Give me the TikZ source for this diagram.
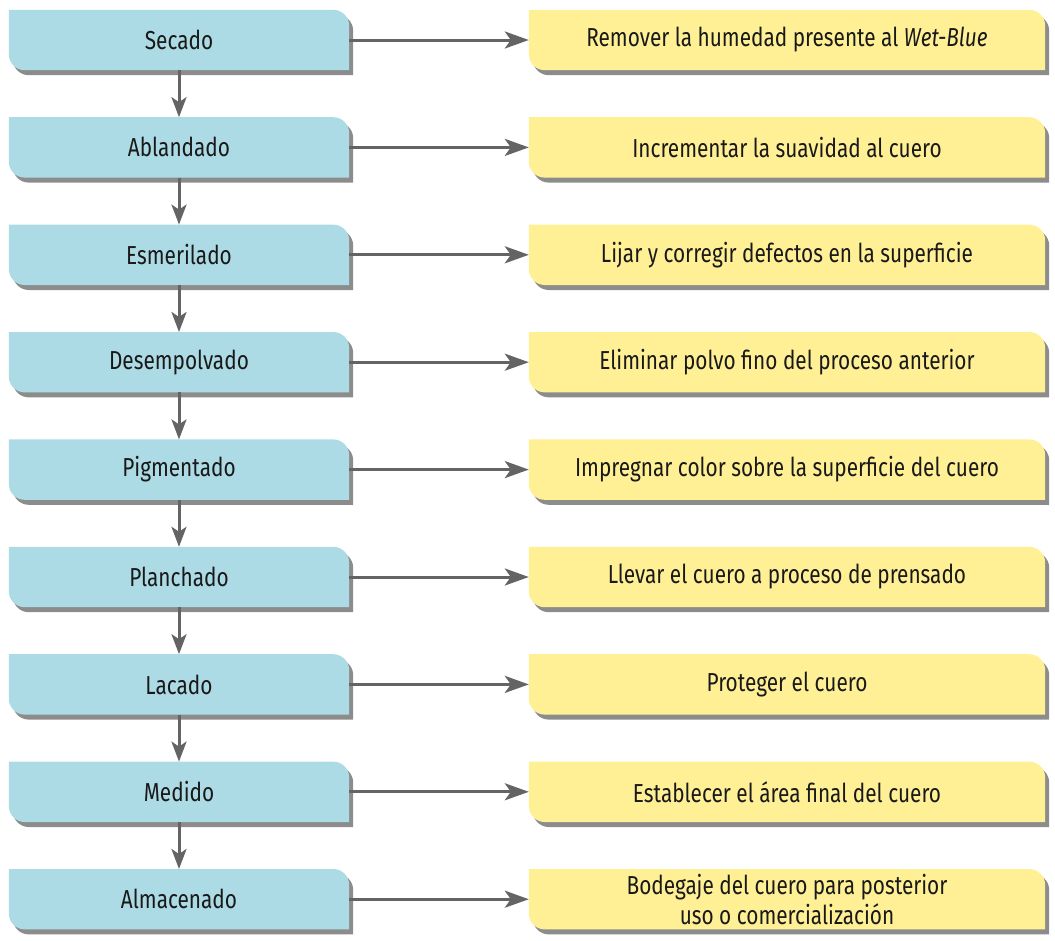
\documentclass[tikz,border=0pt]{standalone}
\usepackage{fontspec}
\setmainfont{Fira Sans}[FakeStretch=0.8]
\usetikzlibrary{arrows.meta,shadows,backgrounds}
\definecolor{procblue}{RGB}{173,219,229}
\definecolor{descyellow}{RGB}{255,240,150}
\definecolor{arrowgray}{RGB}{100,100,100}
\tikzset{
  procbox/.style={minimum width=340pt, minimum height=60pt, inner sep=0pt, font=\fontsize{26}{30}\selectfont, text=black!90},
  descbox/.style={minimum width=516pt, minimum height=60pt, inner sep=0pt, font=\fontsize{26}{30}\selectfont, text=black!90, align=center},
  flowarrow/.style={draw=arrowgray, line width=3pt, -{Stealth[length=24pt, width=17pt, inset=6pt]}},
  boxshadow/.style={drop shadow={shadow xshift=4pt, shadow yshift=-5pt, fill=black, opacity=0.45}}
}
\begin{document}
\begin{tikzpicture}[x=1pt, y=-1pt]
\useasboundingbox (0,0) rectangle (1055,940);
\foreach \n/\t/\d [count=\i from 0] in {
  a/Secado/{Remover la humedad presente al \textit{Wet-Blue}},
  b/Ablandado/{Incrementar la suavidad al cuero},
  c/Esmerilado/{Lijar y corregir defectos en la superficie},
  d/Desempolvado/{Eliminar polvo fino del proceso anterior},
  e/Pigmentado/{Impregnar color sobre la superficie del cuero},
  f/Planchado/{Llevar el cuero a proceso de prensado},
  g/Lacado/{Proteger el cuero},
  h/Medido/{Establecer el área final del cuero},
  i/Almacenado/{Bodegaje del cuero para posterior\\uso o comercialización}} {
  \node[procbox] (p\n) at (179, {40+107.4*\i}) {\t};
  \node[descbox] (q\n) at (787, {40+107.4*\i}) {\d};
}
\begin{scope}[on background layer]
\foreach \n in {a,b,c,d,e,f,g,h,i} {
  \foreach \k/\c in {p/procblue,q/descyellow} {
    \fill[\c, boxshadow] (\k\n.north west) -- ([xshift=-16pt]\k\n.north east) arc[start angle=90, end angle=0, radius=16pt] -- (\k\n.south east) -- ([xshift=16pt]\k\n.south west) arc[start angle=270, end angle=180, radius=16pt] -- cycle;
  }
  \draw[flowarrow] (p\n.east) -- (q\n.west);
}
\foreach \u/\v in {a/b,b/c,c/d,d/e,e/f,f/g,g/h,h/i} {
  \draw[flowarrow, -{Stealth[length=20pt, width=15pt, inset=5pt]}] (p\u.south) -- (p\v.north);
}
\end{scope}
\end{tikzpicture}
\end{document}
